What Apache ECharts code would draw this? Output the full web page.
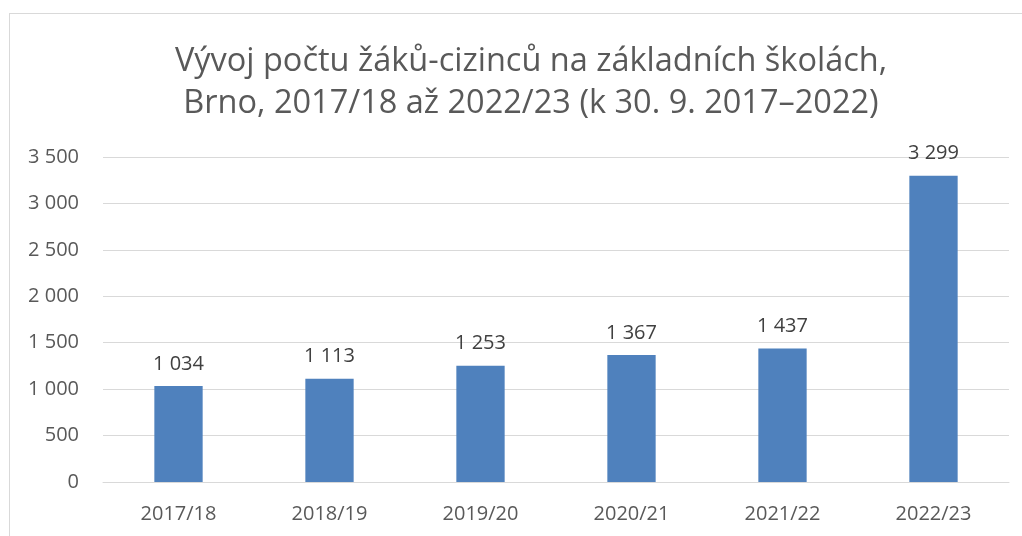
<!DOCTYPE html>
<html>
<head>
<meta charset="utf-8">
<script src="https://cdn.jsdelivr.net/npm/echarts@6/dist/echarts.min.js"></script>
<style>
html, body { margin: 0; padding: 0; background: #fff; }
#frame { position: absolute; left: 9px; top: 13px; width: 1030px; height: 540px; border: 1px solid #d9d9d9; box-sizing: border-box; }
#main { position: absolute; left: 0; top: 0; width: 1022px; height: 536px; }
</style>
</head>
<body>
<div id="frame"></div>
<div id="main"></div>
<script>
var titleLines = ['Vývoj počtu žáků-cizinců na základních školách,', 'Brno, 2017/18 až 2022/23 (k 30. 9. 2017–2022)'];
var years = ['2017/18', '2018/19', '2019/20', '2020/21', '2021/22', '2022/23'];
var pupils = [1034, 1113, 1253, 1367, 1437, 3299];

function fmt(v) {
	return String(v).replace(/\B(?=(\d{3})+(?!\d))/g, ' ');
}

var myChart = echarts.init(document.getElementById('main'));
var option = {
	animation: false,
	title: {
		text: titleLines.join('\n'),
		left: 526,
		top: 36,
		textAlign: 'center',
		textStyle: {
			fontFamily: 'Open Sans',
			fontWeight: 'normal',
			fontSize: 32.5,
			lineHeight: 42,
			color: '#595959'
		}
	},
	grid: {
		left: 103,
		right: 13,
		top: 157,
		bottom: 54
	},
	xAxis: {
		type: 'category',
		data: years,
		axisLine: { lineStyle: { color: '#d9d9d9' } },
		axisTick: { show: false },
		axisLabel: { color: '#595959', fontFamily: 'Open Sans', fontSize: 20, margin: 22 }
	},
	yAxis: {
		type: 'value',
		min: 0,
		max: 3500,
		interval: 500,
		axisLine: { show: false },
		axisTick: { show: false },
		splitLine: { lineStyle: { color: '#d9d9d9' } },
		axisLabel: {
			color: '#595959', fontFamily: 'Open Sans', fontSize: 20, margin: 24,
			formatter: function(v) { return fmt(v); }
		}
	},
	series: [{
		type: 'bar',
		data: pupils,
		barWidth: '32%',
		itemStyle: { color: '#4f81bd' },
		label: {
			show: true,
			position: 'top',
			distance: 12,
			color: '#404040',
			fontFamily: 'Open Sans',
			fontSize: 20,
			formatter: function(p) { return fmt(p.value); }
		}
	}]
};
myChart.setOption(option);
</script>
</body>
</html>
